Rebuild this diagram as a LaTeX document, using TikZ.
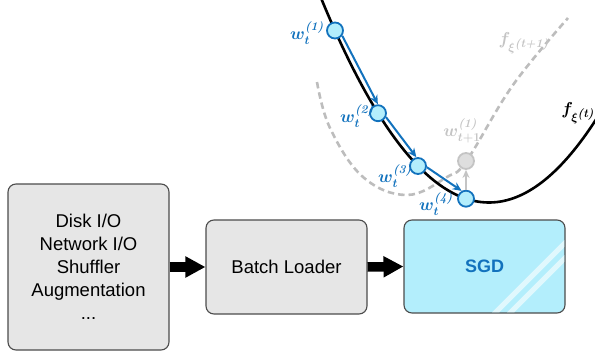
\documentclass[tikz,border=0pt]{standalone}
\usepackage{fontspec}
\setmainfont{Liberation Sans}
\newfontfamily\lmr{Latin Modern Roman}
\usepackage{amsmath}
\usepackage{bm}
\usetikzlibrary{arrows.meta,calc}
\definecolor{blu}{HTML}{1272BD}
\definecolor{cyanfill}{HTML}{B3EEFC}
\definecolor{boxgray}{HTML}{E6E6E6}
\definecolor{dgray}{HTML}{BDBDBD}
\definecolor{lgray}{HTML}{C4C4C4}
\newcommand{\supb}[1]{\text{\lmr\bfseries\itshape(#1)}}
\tikzset{
  box/.style={draw=black!70, line width=1.1pt, rounded corners=8pt, fill=boxgray,
    align=center, font=\fontsize{18.5}{23}\selectfont, inner sep=0pt},
  fat/.style={line width=9.5pt, -{Triangle[length=20pt,width=20pt]}},
  pt/.style={circle, draw=blu, fill=cyanfill, line width=1.8pt, minimum size=16pt, inner sep=0pt},
  gpt/.style={circle, draw=lgray, fill=black!13, line width=1.8pt, minimum size=16pt, inner sep=0pt},
  barrow/.style={draw=blu, line width=2pt, -{Stealth[length=9pt,width=8pt]}, shorten >=8pt, shorten <=8pt},
  garrow/.style={draw=lgray, line width=2pt, -{Stealth[length=8pt,width=7pt]}},
  wlab/.style={text=blu, font=\fontsize{17}{17}\selectfont, inner sep=0pt},
}
\begin{document}
\begin{tikzpicture}[x=1pt,y=-1pt]
\useasboundingbox (0,0) rectangle (595,351);
% boxes
\node[box, minimum width=161pt, minimum height=166pt] (src) at (88.5,267)
  {Disk I/O\\Network I/O\\Shuffler\\Augmentation\\...};
\node[box, minimum width=161pt, minimum height=94pt] (bl) at (286.5,267) {Batch Loader};
\node[box, fill=cyanfill, minimum width=161pt, minimum height=93pt] (sgd) at (484.5,266.5) {};
\begin{scope}
  \clip[rounded corners=8pt] (404.6,220.6) rectangle (564.4,312.4);
  \draw[line width=5pt, white, opacity=0.6] (492,316) -- (570,238);
  \draw[line width=5pt, white, opacity=0.6] (507,316) -- (570,253);
\end{scope}
\node[text=blu, font=\fontsize{18}{18}\selectfont\bfseries] at (sgd.center) {SGD};
\draw[fat] (src.east) -- (bl.west);
\draw[fat] (bl.east) -- (sgd.west);
% curves
\draw[dgray, line width=2.6pt, dash pattern=on 6.5pt off 4pt]
  plot[smooth, tension=0.65] coordinates {(317,82) (330,128) (363,177) (407,195) (447,177) (467,160) (513,85) (568,18)};
\draw[black, line width=2.6pt]
  plot[domain=316:600, samples=120] (\x, {202.5-0.00725*(\x-489)*(\x-489)});
% points
\node[pt] (w1) at (335,30.5) {};
\node[pt] (w2) at (378,113.2) {};
\node[pt] (w3) at (418,166) {};
\node[pt] (w4) at (466,198.7) {};
\node[gpt] (g1) at (466,161) {};
\draw[barrow] ($(w1)!4pt!90:(w2)$) -- ($(w2)!4pt!-90:(w1)$);
\draw[barrow] ($(w2)!4pt!90:(w3)$) -- ($(w3)!4pt!-90:(w2)$);
\draw[barrow] ($(w3)!4pt!90:(w4)$) -- ($(w4)!4pt!-90:(w3)$);
\draw[garrow] (w4) -- (g1);
% labels
\node[wlab] (l1) at (307,33) {$\bm{w}_{\bm t}^{\supb{1}}$};
\node[wlab] (l2) at (357,116) {$\bm{w}_{\bm t}^{\supb{2}}$};
\node[wlab] (l3) at (395,176) {$\bm{w}_{\bm t}^{\supb{3}}$};
\node[wlab] (l4) at (436,204) {$\bm{w}_{\bm t}^{\supb{4}}$};
\node[wlab, text=lgray] (lg) at (462,131) {$\bm{w}_{\bm{t+1}}^{\supb{1}}$};
\node[wlab, text=lgray] (fg) at (524,43) {$\bm{f}_{\bm{\xi}^{\scriptstyle\supb{t+1}}}$};
\node[wlab, text=black] (fb) at (578,113) {$\bm{f}_{\bm{\xi}^{\scriptstyle\supb{t}}}$};
\end{tikzpicture}
\end{document}
